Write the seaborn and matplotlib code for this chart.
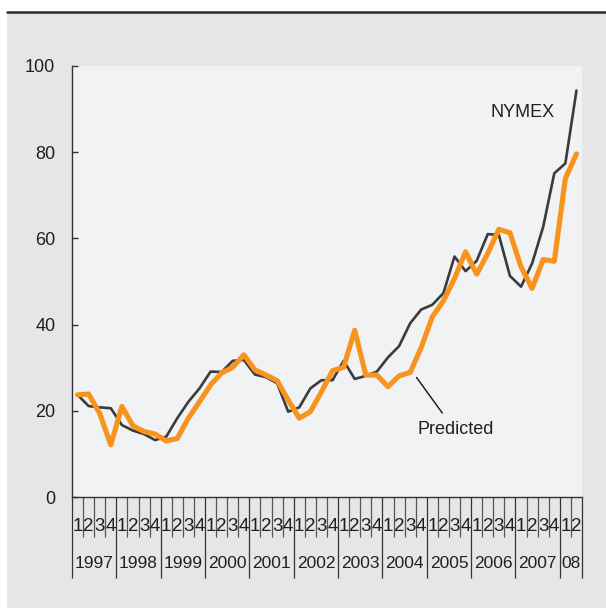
import matplotlib
matplotlib.use("Agg")
import matplotlib.pyplot as plt
import matplotlib.patches as patches
import numpy as np
import pandas as pd
import seaborn as sns

# quarterly oil price, 1997 Q1 .. 2008 Q2
years = ["1997", "1998", "1999", "2000", "2001", "2002", "2003",
         "2004", "2005", "2006", "2007", "08"]
quarters_per_year = [4, 4, 4, 4, 4, 4, 4, 4, 4, 4, 4, 2]

nymex = [23.7, 21.1, 20.8, 20.6, 16.7, 15.4, 14.6, 13.2, 14.0, 18.3,
         22.1, 25.2, 29.1, 29.0, 31.6, 31.8, 28.4, 27.8, 26.4, 19.8,
         20.8, 25.2, 27.1, 27.1, 31.6, 27.4, 28.1, 29.1, 32.4, 35.0,
         40.3, 43.5, 44.6, 47.3, 55.8, 52.4, 54.8, 61.0, 60.8, 51.3,
         48.8, 54.2, 62.7, 75.1, 77.4, 94.3]
predicted = [23.7, 23.9, 19.4, 12.1, 21.0, 16.5, 15.2, 14.6, 13.0, 13.6,
             18.3, 22.1, 26.0, 28.8, 30.1, 33.0, 29.5, 28.3, 27.0, 22.5,
             18.3, 19.8, 24.4, 29.3, 30.1, 38.7, 28.3, 28.3, 25.6, 28.1,
             28.9, 34.7, 41.8, 45.5, 50.7, 56.9, 51.7, 56.5, 62.1, 61.3,
             53.4, 48.4, 55.1, 54.7, 73.9, 79.6]

yticks = [0, 20, 40, 60, 80, 100]

sns.set_style("white")
plt.rcParams["font.family"] = ["Liberation Sans", "DejaVu Sans"]

TEXT = "#231f20"
BG = "#e5e6e8"
FACE = "#f1f2f4"
ORANGE = "#f7941d"
DARK = "#3b3b3d"

df = pd.DataFrame({"q": np.arange(len(nymex)), "nymex": nymex, "predicted": predicted})

fig = plt.figure(figsize=(6.06, 6.10), dpi=100)
fig.patch.set_facecolor("white")
fig.add_artist(patches.Rectangle((7 / 606, 0.003), 599 / 606, 0.977,
                                 transform=fig.transFigure, facecolor=BG,
                                 edgecolor="none", zorder=-10))
fig.add_artist(plt.Line2D([7 / 606, 1], [0.9805, 0.9805], transform=fig.transFigure,
                          color="#2b2b2b", lw=1.8, zorder=-5))

ax = fig.add_axes([72 / 606, 1 - 497 / 610, 510 / 606, 431 / 610])
ax.set_facecolor(FACE)

sns.lineplot(data=df, x="q", y="nymex", ax=ax, color=DARK, lw=1.9)
sns.lineplot(data=df, x="q", y="predicted", ax=ax, color=ORANGE, lw=3.7)

n = len(nymex)
ax.set_xlim(-0.5, n - 0.5)
ax.set_ylim(0, 100)
ax.set_xlabel("")
ax.set_ylabel("")

for s in ["top", "right"]:
    ax.spines[s].set_visible(False)
for s in ["left", "bottom"]:
    ax.spines[s].set_color("#333333")
    ax.spines[s].set_linewidth(1.0)

ax.set_yticks(yticks)
ax.tick_params(axis="y", left=True, direction="in", length=4, width=1.0, color="#333333",
               labelsize=13, labelcolor=TEXT, pad=12)

# quarter / year separators below the plot
edges = np.cumsum([0] + quarters_per_year) - 0.5
ax.set_xticks(edges)
ax.set_xticks(np.arange(n + 1) - 0.5, minor=True)
ax.tick_params(axis="x", which="major", bottom=True, direction="out", length=58, width=0.9,
               color="#333333", labelbottom=False)
ax.tick_params(axis="x", which="minor", bottom=True, direction="out", length=29, width=0.9,
               color="#555555", labelbottom=False)

tr = ax.get_xaxis_transform()
narrow = ["Liberation Sans Narrow", "Liberation Sans", "DejaVu Sans"]
for i in range(n):
    ax.text(i, -0.068, str(i % 4 + 1), transform=tr, ha="center", va="center",
            fontsize=13.5, color=TEXT, family=narrow, clip_on=False)
for y, lo, hi in zip(years, edges[:-1], edges[1:]):
    ax.text((lo + hi) / 2, -0.155, y, transform=tr, ha="center", va="center",
            fontsize=12.5, color=TEXT, family=narrow, clip_on=False)

ax.text(40.1, 89.1, "NYMEX", ha="center", va="center", fontsize=13, color=TEXT)
ax.annotate("Predicted", xy=(30.5, 28.0), xytext=(34.1, 15.7),
            ha="center", va="center", fontsize=13, color=TEXT,
            arrowprops=dict(arrowstyle="-", color="#111111", lw=1.0,
                            relpos=(0.4, 1.0), shrinkA=4, shrinkB=1))

fig.savefig("out.png", dpi=100, facecolor=fig.get_facecolor())
